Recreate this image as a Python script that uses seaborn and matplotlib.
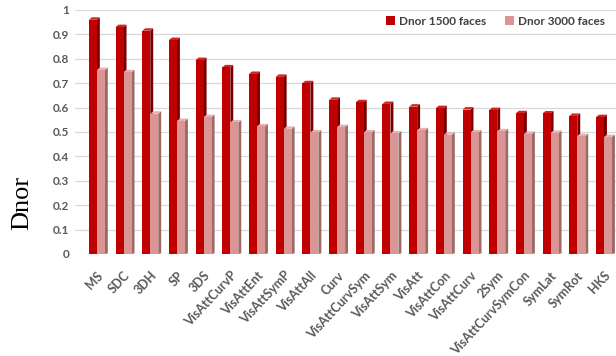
import numpy as np
import pandas as pd
import matplotlib
matplotlib.use("Agg")
import matplotlib.pyplot as plt
from matplotlib.patches import Polygon
import seaborn as sns

categories = ["MS", "SDC", "3DH", "SP", "3DS", "VisAttCurvP", "VisAttEnt", "VisAttSymP",
              "VisAttAll", "Curv", "VisAttCurvSym", "VisAttSym", "VisAtt", "VisAttCon",
              "VisAttCurv", "2Sym", "VisAttCurvSymCon", "SymLat", "SymRot", "HKS"]
dnor_1500 = [0.96, 0.93, 0.915, 0.877, 0.795, 0.765, 0.738, 0.726, 0.700, 0.632,
             0.622, 0.615, 0.604, 0.598, 0.592, 0.590, 0.577, 0.576, 0.566, 0.561]
dnor_3000 = [0.754, 0.745, 0.575, 0.545, 0.561, 0.539, 0.523, 0.513, 0.498, 0.520,
             0.498, 0.494, 0.507, 0.489, 0.498, 0.503, 0.492, 0.496, 0.483, 0.479]
series_names = ["Dnor 1500 faces", "Dnor 3000 faces"]
y_ticks = [0, 0.1, 0.2, 0.3, 0.4, 0.5, 0.6, 0.7, 0.8, 0.9, 1]
y_tick_labels = ["0", "0.1", "0.2", "0.3", "0.4", "0.5", "0.6", "0.7", "0.8", "0.9", "1"]

df = pd.DataFrame({
    "cat": categories * 2,
    "val": dnor_1500 + dnor_3000,
    "series": [series_names[0]] * len(categories) + [series_names[1]] * len(categories),
})

front = ["#C00000", "#D99694"]
side = ["#7A0000", "#9C6A69"]
top = ["#D42020", "#E6B0AF"]

sns.set_theme(style="white")
plt.rcParams["font.family"] = ["Lato", "DejaVu Sans"]

fig = plt.figure(figsize=(6.16, 3.56), dpi=100)
ax = fig.add_axes([75 / 616, 102 / 356, 541 / 616, 244 / 356])

sns.barplot(data=df, x="cat", y="val", hue="series", hue_order=series_names,
            palette=front, saturation=1, width=0.6, ax=ax, legend=True, linewidth=0)

# 3D-like side and top faces derived from the bar patches
d = 0.11
dy = 0.010
for i, cont in enumerate(ax.containers):
    for p in cont.patches:
        p.set_zorder(3 + 2 * i)
        x0 = p.get_x()
        w = p.get_width()
        h = p.get_height()
        x1 = x0 + w
        ax.add_patch(Polygon([(x1, 0), (x1 + d, dy * 0.3), (x1 + d, h + dy), (x1, h)],
                             closed=True, facecolor=side[i], edgecolor="none",
                             zorder=2.9 + 2 * i))
        ax.add_patch(Polygon([(x0, h), (x1, h), (x1 + d, h + dy), (x0 + d, h + dy)],
                             closed=True, facecolor=top[i], edgecolor="none",
                             zorder=2.9 + 2 * i))

ax.set_xlim(-0.82, 19.45)
ax.set_ylim(0, 1.0)
ax.set_yticks(y_ticks)
ax.set_yticklabels(y_tick_labels)
ax.yaxis.grid(True, color="#D9D9D9", linewidth=0.9, zorder=0)
ax.set_axisbelow(True)
for s in ax.spines.values():
    s.set_visible(False)
ax.set_xlabel("")
ax.set_ylabel("")

ax.tick_params(axis="y", length=0, pad=4, labelsize=8.5, labelcolor="#595959")
ax.tick_params(axis="x", length=0, pad=11, labelsize=9, labelcolor="#595959")
for lab in ax.get_yticklabels():
    lab.set_fontweight("bold")
ax.set_xticks(range(len(categories)))
ax.set_xticklabels(categories, rotation=47, ha="right", rotation_mode="anchor",
                   fontweight="bold")

leg = ax.legend(loc="upper right", bbox_to_anchor=(1.0, 1.02), ncol=2, frameon=False,
                fontsize=8.5, handlelength=0.7, handleheight=0.7, handletextpad=0.4,
                columnspacing=1.6)
for t in leg.get_texts():
    t.set_color("#404040")
    t.set_fontweight("bold")

fig.text(22 / 616, 1 - 203 / 356, "Dnor", rotation=90, ha="center", va="center",
         fontsize=19, family="Liberation Serif", color="black")

fig.savefig("out.png", dpi=100)
